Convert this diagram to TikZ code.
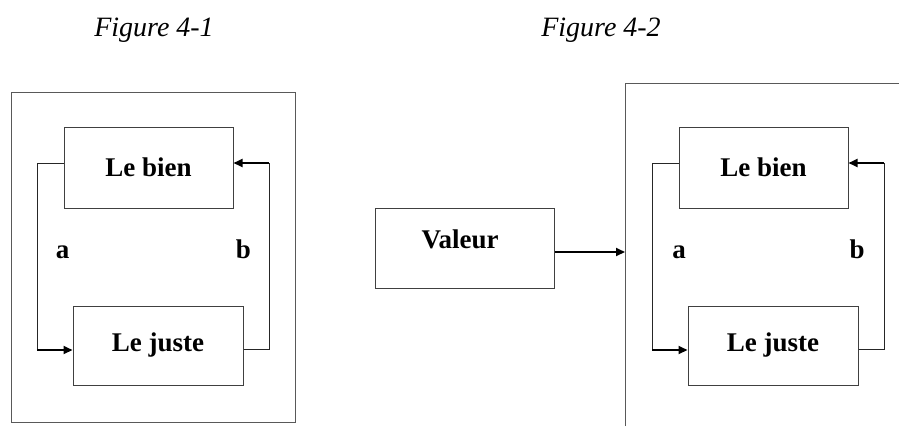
\documentclass[tikz,border=0pt]{standalone}
\usepackage{fontspec}
\setmainfont{Liberation Serif}
\usetikzlibrary{arrows.meta}
\begin{document}
\begin{tikzpicture}[x=1pt,y=-1pt,
  box/.style={draw=black!75, line width=1pt, inner sep=0pt, font=\fontsize{27}{30}\selectfont\bfseries},
  lbl/.style={font=\fontsize{27}{30}\selectfont\bfseries, inner sep=0pt, anchor=base},
  title/.style={font=\fontsize{28}{32}\selectfont\itshape, inner sep=0pt, anchor=base},
  framel/.style={draw=black!65, line width=1pt},
  conn/.style={draw=black!85, line width=1pt},
  arr/.style={draw=black, line width=2pt, -{Triangle[length=9pt,width=8pt]}}
]
\useasboundingbox (0,0) rectangle (899,426);

% titles
\node[title] (t1) at (154,36) {Figure 4-1};
\node[title] (t2) at (601,36) {Figure 4-2};

% ---------- Figure 4-1 ----------
\draw[framel] (11,92) rectangle (295,422);
\node[box, minimum width=169pt, minimum height=81pt] (bien1) at (148.5,167.5) {Le bien};
\node[box, minimum width=170pt, minimum height=79pt] (juste1) at (158,345.5) {Le juste};
\coordinate (a1top) at (37,163);
\coordinate (a1bot) at (37,350);
\coordinate (b1bot) at (269,349);
\coordinate (b1top) at (269,163);
\draw[conn] ([yshift=4.5pt]bien1.west) -- (a1top) -- (a1bot);
\draw[arr] (a1bot) -- ([yshift=-4.5pt]juste1.west);
\draw[conn] ([yshift=-3.5pt]juste1.east) -- (b1bot) -- (b1top);
\draw[arr] (b1top) -- ([yshift=4.5pt]bien1.east);
\node[lbl] (la1) at (62.5,258) {a};
\node[lbl] (lb1) at (243.5,258) {b};

% ---------- Figure 4-2 ----------
\node[box, minimum width=179pt, minimum height=80pt] (valeur) at (464.5,248) {};
\node[lbl] (valeurtxt) at (460,248) {Valeur};
\coordinate (f2bl) at (625,426);
\coordinate (f2tl) at (625,83);
\coordinate (f2tr) at (899,83);
\draw[framel] (f2bl) -- (f2tl) -- (f2tr);
\coordinate (f2in) at (625,252);
\draw[arr] ([yshift=-4pt]valeur.east) -- (f2in);

\node[box, minimum width=169pt, minimum height=81pt] (bien2) at (763.5,167.5) {Le bien};
\node[box, minimum width=170pt, minimum height=79pt] (juste2) at (773,345.5) {Le juste};
\coordinate (a2top) at (652,163);
\coordinate (a2bot) at (652,350);
\coordinate (b2bot) at (884,349);
\coordinate (b2top) at (884,163);
\draw[conn] ([yshift=4.5pt]bien2.west) -- (a2top) -- (a2bot);
\draw[arr] (a2bot) -- ([yshift=-4.5pt]juste2.west);
\draw[conn] ([yshift=-3.5pt]juste2.east) -- (b2bot) -- (b2top);
\draw[arr] (b2top) -- ([yshift=4.5pt]bien2.east);
\node[lbl] (la2) at (679,258) {a};
\node[lbl] (lb2) at (857,258) {b};
\end{tikzpicture}
\end{document}
